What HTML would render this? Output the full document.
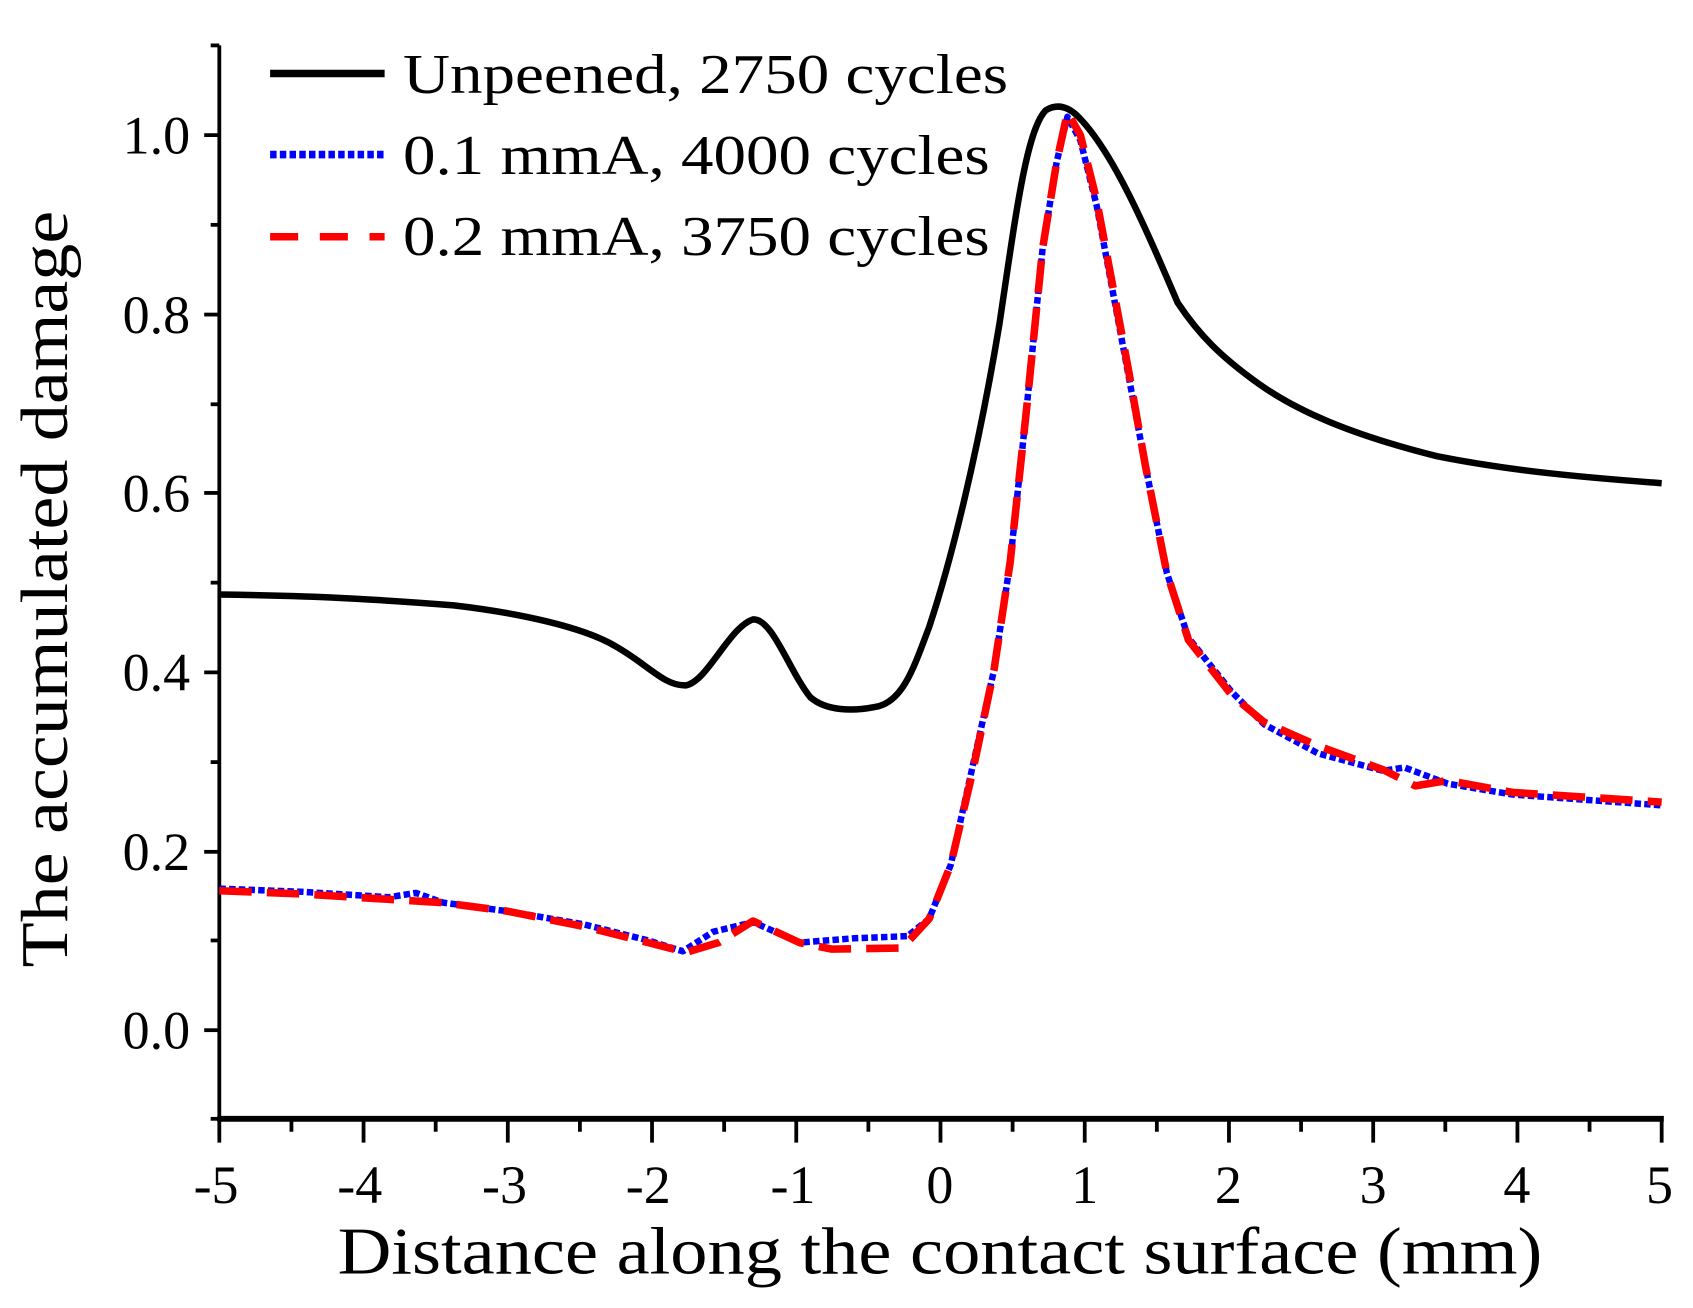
<!DOCTYPE html>
<html><head><style>html,body{margin:0;padding:0;background:#fff}svg{display:block}</style></head>
<body>
<svg width="1693" height="1308" viewBox="0 0 1567 1210" preserveAspectRatio="none" xmlns="http://www.w3.org/2000/svg" font-family="Liberation Serif, serif">
<rect width="1567" height="1210" fill="#fff"/>
<g stroke="#000" stroke-width="3.5" fill="none">
<line x1="203" y1="42" x2="203" y2="1036"/>
<line x1="201" y1="1035" x2="1540" y2="1035" stroke-width="5.5"/>
<line x1="189" y1="953" x2="203" y2="953"/><line x1="189" y1="788" x2="203" y2="788"/><line x1="189" y1="622" x2="203" y2="622"/><line x1="189" y1="456" x2="203" y2="456"/><line x1="189" y1="291" x2="203" y2="291"/><line x1="189" y1="125" x2="203" y2="125"/>
<line x1="195" y1="1035" x2="203" y2="1035"/><line x1="195" y1="870" x2="203" y2="870"/><line x1="195" y1="705" x2="203" y2="705"/><line x1="195" y1="539" x2="203" y2="539"/><line x1="195" y1="374" x2="203" y2="374"/><line x1="195" y1="208" x2="203" y2="208"/><line x1="195" y1="42" x2="203" y2="42"/>
<path d="M203 1035V1057M336.5 1035V1057M470 1035V1057M603.5 1035V1057M737 1035V1057M870.5 1035V1057M1004 1035V1057M1137.5 1035V1057M1271 1035V1057M1404.5 1035V1057M1538 1035V1057"/>
<path d="M269.75 1035V1047M403.25 1035V1047M536.75 1035V1047M670.25 1035V1047M803.75 1035V1047M937.25 1035V1047M1070.75 1035V1047M1204.25 1035V1047M1337.75 1035V1047M1471.25 1035V1047"/>
</g>
<g font-size="50" text-anchor="end">
<text x="176" y="970">0.0</text><text x="176" y="805">0.2</text><text x="176" y="639">0.4</text><text x="176" y="473">0.6</text><text x="176" y="308">0.8</text><text x="176" y="142">1.0</text>
</g>
<g font-size="50" text-anchor="middle">
<text x="200" y="1113">-5</text><text x="333" y="1113">-4</text><text x="467" y="1113">-3</text><text x="600" y="1113">-2</text><text x="734" y="1113">-1</text><text x="870" y="1113">0</text><text x="1004" y="1113">1</text><text x="1137" y="1113">2</text><text x="1271" y="1113">3</text><text x="1404" y="1113">4</text><text x="1536" y="1113">5</text>
</g>
<text x="870" y="1178" font-size="62" text-anchor="middle" textLength="1115" lengthAdjust="spacingAndGlyphs">Distance along the contact surface (mm)</text>
<text transform="translate(62,545) rotate(-90)" font-size="62" text-anchor="middle" textLength="700" lengthAdjust="spacingAndGlyphs">The accumulated damage</text>
<g stroke-width="7" fill="none">
<line x1="250" y1="68" x2="356" y2="68" stroke="#000"/>
<line x1="250" y1="143" x2="356" y2="143" stroke="#0000ff" stroke-dasharray="6,3"/>
<line x1="250" y1="219" x2="356" y2="219" stroke="#ff0000" stroke-dasharray="26,20"/>
</g>
<g font-size="52">
<text x="373" y="86" textLength="560" lengthAdjust="spacingAndGlyphs">Unpeened, 2750 cycles</text>
<text x="373" y="161" textLength="543" lengthAdjust="spacingAndGlyphs">0.1 mmA, 4000 cycles</text>
<text x="373" y="236" textLength="543" lengthAdjust="spacingAndGlyphs">0.2 mmA, 3750 cycles</text>
</g>
<g fill="none" stroke-linejoin="round">
<path stroke="#000" stroke-width="6" d="M203,550 C280,551 330,553 420,560 C480,567 540,580 570,598 C600,615 615,635 635,634 C655,630 675,580 697,573 C715,572 730,620 750,645 C765,658 790,658 810,654 C835,650 845,620 860,580 C880,520 905,420 925,300 C940,200 950,120 968,102 C978,96 988,98 998,108 C1030,140 1060,210 1090,280 C1110,310 1130,330 1165,355 C1200,380 1250,402 1330,422 C1400,436 1470,442 1538,447"/>
<path stroke="#0000ff" stroke-width="6" stroke-dasharray="6,3" d="M203,822 L280,825 L360,830 L385,826 L410,835 L470,843 L540,855 L600,870 L632,880 L660,862 L697,853 L740,872 L790,868 L840,866 L860,850 L880,800 L900,710 L920,620 L935,520 L950,380 L965,230 L978,150 L988,108 L1000,130 L1015,190 L1030,270 L1045,350 L1060,430 L1080,530 L1100,590 L1140,640 L1170,670 L1220,697 L1280,713 L1300,710 L1340,725 L1400,735 L1538,745"/>
<path stroke="#ff0000" stroke-width="7" stroke-dasharray="30,14" d="M203,824 L280,827 L360,832 L410,835 L470,843 L540,857 L600,872 L635,881 L665,872 L697,852 L740,872 L770,878 L835,877 L860,850 L880,800 L900,715 L920,620 L935,520 L950,380 L965,230 L978,150 L988,104 L1000,125 L1015,185 L1030,265 L1045,345 L1060,430 L1080,530 L1100,592 L1140,643 L1170,668 L1220,690 L1280,712 L1310,727 L1340,722 L1400,733 L1538,742"/>
</g>
</svg>
</body></html>
